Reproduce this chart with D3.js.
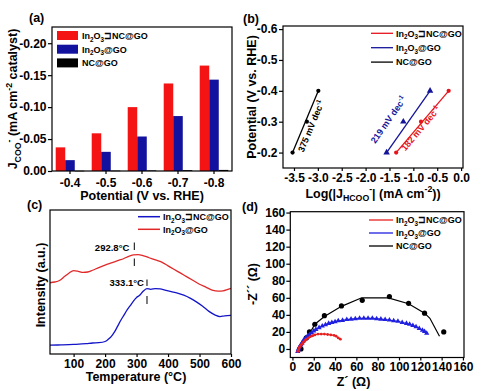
<!DOCTYPE html>
<html><head><meta charset="utf-8">
<script src="https://cdn.jsdelivr.net/npm/d3@7"></script>
<style>
body{margin:0;background:#fff;}
svg{display:block;font-family:"Liberation Sans",Arial,sans-serif;font-weight:bold;}
</style></head>
<body><svg id="c" width="482" height="391"></svg>
<script>
// ---------- DATA ----------
// (a) partial current density of formate (mA cm^-2 catalyst)
const aCats = ["-0.4","-0.5","-0.6","-0.7","-0.8"];
const aHybrid = [-0.037,-0.059,-0.100,-0.137,-0.165];
const aIn2O3 = [-0.017,-0.030,-0.054,-0.086,-0.143];
const aNC = [-0.0004,-0.0006,-0.0009,-0.0013,-0.0017];
const aTicks = [0,-0.05,-0.10,-0.15,-0.20];
// (b) Tafel plots
const bPot = [-0.2,-0.3,-0.4];
const bHybridX = [-1.36,-0.84,-0.26];
const bIn2O3X = [-1.56,-1.21,-0.65];
const bNCX = [-3.53,-3.23,-2.99];
const bXTicks = [-3.5,-3.0,-2.5,-2.0,-1.5,-1.0,-0.5,0.0];
const bYTicks = [-0.6,-0.5,-0.4,-0.3,-0.2];
const bSlopes = ["375","219","182"];
// (c) CO2-TPD
const cBlueT = [25,60,100,140,160,180,200,210,220,230,240,250,260,270,280,290,300,310,320,333,345,360,375,390,410,430,450,470,490,510,530,550,565,580,600];
const cBlueI = [8,8.2,8.5,9,9.5,9.7,10.5,12,14,17,21,25,28.5,32,35,38,40.5,42,44.5,46.5,46,46.5,46.3,45.5,44.5,43.5,42,40,37.5,34.5,31,28.5,27.5,28,28.3];
const cRedT = [25,40,55,70,85,100,115,130,145,160,180,200,220,240,260,275,290,305,320,340,360,380,400,420,440,460,480,500,520,540,560,575,590,600];
const cRedI = [50.5,51,52,54.5,57,58.8,58.3,57.5,57.8,59,60.8,62.5,64,65.5,67,68.5,69.4,69.6,69,67.5,66,64.5,62,59.5,57,54.5,52,49.5,47.5,45.5,44.8,45,46,46.7];
const cXTicks = [100,200,300,400,500,600];
const cPeaks = [292.8,333.1];
// (d) Nyquist plots
const dHybridX = [5,5.5,6,6.5,7,8,9,10,11,12,13,15,17,19,21,24,27,30,33,36,39,41,43,45];
const dHybridY = [-3,-1.5,0,1.5,3,4.5,6,7.5,9,10,11.5,13,14.5,15.5,16.5,17.5,17.5,17.5,17,16.5,16,15,13,11.5];
const dIn2O3X = [5,5.5,6,7,8,9,10,11,12.5,14,16,18,20,22,25,28,31,34,37,40,43,47,51,55,59,63,67,71,75,79,83,87,91,95,99,103,107,110,113,116,119,122,124,126];
const dIn2O3Y = [-3,-1,1,3,5,7,9,11,13,15,17,19,21,23,25,27,28.5,30,31,32,33,33.5,34.5,35,35.5,36,36,36,36,35.5,35,34.5,34,33,32.5,31,30,29,27.5,26,24,22,20.5,18.5];
const dNCX = [8,13,16,21,30,46,65.5,91,109,124,142];
const dNCY = [0,13,20,29,39,50.5,57,61.5,53.5,42,20];
const dNCFitX = [6,13,17,21,30,46,65,90,109,124,129,138];
const dNCFitY = [-2,12,20,29,38,50,60,60,53,42,36,15];
const dTicks = [0,20,40,60,80,100,120,140,160];

const legendNames = [
  [{t:"In"},{t:"2",s:"sub"},{t:"O"},{t:"3",s:"sub"},{t:"\u2290NC@GO"}],
  [{t:"In"},{t:"2",s:"sub"},{t:"O"},{t:"3",s:"sub"},{t:"@GO"}],
  [{t:"NC@GO"}]
];

// ---------- HELPERS ----------
const svg = d3.select("#c");
const fmt = (p)=> (v)=> (v<0?"-":"") + Math.abs(v).toFixed(p);
const f2 = fmt(2), f1 = fmt(1);

function rich(sel, parts, size){
  let off = 0;
  parts.forEach(p=>{
    const fs = p.s ? size*0.7 : size;
    const target = p.s==="sub" ? size*0.3 : (p.s==="sup" ? -size*0.42 : 0);
    sel.append("tspan").attr("dy", target-off).attr("font-size", fs).text(p.t);
    off = target;
  });
  return sel;
}
function frame(g, x0,y0,x1,y1){
  g.append("rect").attr("x",x0).attr("y",y0).attr("width",x1-x0).attr("height",y1-y0)
   .attr("fill","none").attr("stroke","#000").attr("stroke-width",1.2);
}
function styleAxis(g, fs){
  g.selectAll("path.domain").remove();
  g.selectAll("line").attr("stroke","#000").attr("stroke-width",1.2);
  g.selectAll("text").attr("font-size",fs).attr("font-family","'Liberation Sans',Arial,sans-serif").attr("font-weight","bold").attr("fill","#000");
}
const TFS = 12, LFS = 12.5, GFS = 9;

// ---------- PANEL (a) ----------
{
  const L=52,T=27,R=232,B=171;
  const g = svg.append("g");
  const x = d3.scaleBand().domain(aCats).range([L,R]).padding(0);
  const series = [aHybrid,aIn2O3,aNC];
  const colors = ["#f41414","#12129e","#000000"];
  const xi = d3.scaleBand().domain([0,1,2]).range([0,x.bandwidth()]).paddingInner(0).paddingOuter(0.39);
  const y = d3.scaleLinear().domain([0,-0.2254]).range([B,T]);
  series.forEach((s,si)=>{
    g.selectAll(null).data(s).enter().append("rect")
     .attr("x",(d,i)=>x(aCats[i])+xi(si)).attr("width",xi.bandwidth())
     .attr("y",d=>y(d)).attr("height",d=>Math.max(0.6,y(0)-y(d))).attr("fill",colors[si]);
  });
  frame(g,L,T,R,B);
  styleAxis(g.append("g").attr("transform",`translate(${L},0)`).call(d3.axisLeft(y).tickValues(aTicks).tickFormat(f2).tickSize(4).tickPadding(1.5)),TFS);
  styleAxis(g.append("g").attr("transform",`translate(0,${B})`).call(d3.axisBottom(x).tickSize(3).tickPadding(4)),TFS);
  // legend
  legendNames.forEach((n,i)=>{
    const yy = 35.5 + i*13.7;
    g.append("rect").attr("x",57).attr("y",yy-4.5).attr("width",21).attr("height",9).attr("fill",colors[i]);
    rich(g.append("text").attr("x",82).attr("y",yy+3.3).attr("font-size",GFS), n, GFS);
  });
  rich(g.append("text").attr("transform",`translate(17,${(T+B)/2}) rotate(-90)`).attr("text-anchor","middle").attr("font-size",LFS),
    [{t:"J"},{t:"COO",s:"sub"},{t:"-",s:"sup"},{t:" (mA cm"},{t:"-2",s:"sup"},{t:" catalyst)"}], LFS);
  g.append("text").attr("x",(L+R)/2).attr("y",199.5).attr("text-anchor","middle").attr("font-size",LFS).text("Potential (V vs. RHE)");
  g.append("text").attr("x",29).attr("y",22).attr("font-size",LFS).text("(a)");
}

// ---------- PANEL (b) ----------
{
  const L=283,T=26,R=463,B=168;
  const g = svg.append("g");
  const x = d3.scaleLinear().domain([-3.73,0.04]).range([L,R]);
  const y = d3.scaleLinear().domain([-0.15,-0.61]).range([B,T]);
  frame(g,L,T,R,B);
  styleAxis(g.append("g").attr("transform",`translate(${L},0)`).call(d3.axisLeft(y).tickValues(bYTicks).tickFormat(f1).tickSize(4).tickPadding(1.5)),TFS);
  styleAxis(g.append("g").attr("transform",`translate(0,${B})`).call(d3.axisBottom(x).tickValues(bXTicks).tickFormat(f1).tickSize(3).tickPadding(2)),TFS);
  const sets = [[bHybridX,"#e8141c","circle"],[bIn2O3X,"#14149a","triangle"],[bNCX,"#000","circle"]];
  sets.forEach(([xs,c,m])=>{
    g.append("line").attr("x1",x(xs[0])).attr("y1",y(bPot[0])).attr("x2",x(xs[2])).attr("y2",y(bPot[2]))
     .attr("stroke",c).attr("stroke-width",1.3);
    const sym = d3.symbol().type(m==="circle"?d3.symbolCircle:d3.symbolTriangle).size(m==="circle"?14:18);
    g.selectAll(null).data(xs).enter().append("path")
     .attr("transform",(d,i)=>`translate(${x(d)},${y(bPot[i])})`).attr("d",sym).attr("fill",c);
  });
  // slope labels
  const labs = [[bNCX,"#000",314,127.3,bSlopes[0]],[bIn2O3X,"#14149a",391,121.5,bSlopes[1]],[bHybridX,"#e8141c",423,130.5,bSlopes[2]]];
  labs.forEach(([xs,c,px,py,s])=>{
    const ang = Math.atan2(y(bPot[2])-y(bPot[0]), x(xs[2])-x(xs[0]))*180/Math.PI;
    rich(g.append("text").attr("transform",`translate(${px},${py}) rotate(${ang})`).attr("text-anchor","middle")
      .attr("dy","0.35em").attr("fill",c).attr("font-size",GFS), [{t:s+" mV dec"},{t:"-1",s:"sup"}], GFS);
  });
  legendNames.forEach((n,i)=>{
    const yy = 33.3 + i*14.4;
    g.append("line").attr("x1",371).attr("x2",393).attr("y1",yy).attr("y2",yy).attr("stroke",sets[i][1]).attr("stroke-width",1.3);
    rich(g.append("text").attr("x",396).attr("y",yy+3.3).attr("font-size",GFS), n, GFS);
  });
  rich(g.append("text").attr("transform",`translate(256,${(T+B)/2}) rotate(-90)`).attr("text-anchor","middle").attr("font-size",LFS),
    [{t:"Potential (V vs. RHE)"}], LFS);
  rich(g.append("text").attr("x",(L+R)/2).attr("y",197.5).attr("text-anchor","middle").attr("font-size",LFS),
    [{t:"Log(|J"},{t:"HCOO",s:"sub"},{t:"-",s:"sup"},{t:"| (mA cm"},{t:"-2",s:"sup"},{t:"))"}], LFS);
  g.append("text").attr("x",243).attr("y",23).attr("font-size",LFS).text("(b)");
}

// ---------- PANEL (c) ----------
{
  const L=50,T=210,R=231,B=354;
  const g = svg.append("g");
  const x = d3.scaleLinear().domain([25,600]).range([L,R]);
  const y = d3.scaleLinear().domain([2,100]).range([B,T]);
  const line = d3.line().x(d=>x(d[0])).y(d=>y(d[1])).curve(d3.curveMonotoneX);
  g.append("path").attr("d",line(cRedT.map((t,i)=>[t,cRedI[i]]))).attr("fill","none").attr("stroke","#e02828").attr("stroke-width",1.3);
  g.append("path").attr("d",line(cBlueT.map((t,i)=>[t,cBlueI[i]]))).attr("fill","none").attr("stroke","#1414c8").attr("stroke-width",1.3);
  frame(g,L,T,R,B);
  styleAxis(g.append("g").attr("transform",`translate(0,${B})`).call(d3.axisBottom(x).tickValues(cXTicks).tickSize(3).tickPadding(2)),TFS);
  // peak markers
  const peakY = [[242.5,250],[258.5,266],[279.5,286],[296,304]];
  [[cPeaks[0],peakY[0],peakY[1]],[cPeaks[1],peakY[2],peakY[3]]].forEach(([p,a,b])=>{
    [a,b].forEach(seg=>g.append("line").attr("x1",x(p)).attr("x2",x(p)).attr("y1",seg[0]).attr("y2",seg[1]).attr("stroke","#000").attr("stroke-width",1));
  });
  g.append("text").attr("x",x(cPeaks[0])-5).attr("y",251).attr("text-anchor","end").attr("font-size",9.5).text(cPeaks[0].toFixed(1)+"°C");
  g.append("text").attr("x",x(cPeaks[1])-3).attr("y",286).attr("text-anchor","end").attr("font-size",9.5).text(cPeaks[1].toFixed(1)+"°C");
  const cl = [["#1414c8",legendNames[0]],["#e02828",legendNames[1]]];
  cl.forEach(([c,n],i)=>{
    const yy = 216.7 + i*12.6;
    g.append("line").attr("x1",138).attr("x2",160).attr("y1",yy).attr("y2",yy).attr("stroke",c).attr("stroke-width",1.5);
    rich(g.append("text").attr("x",163).attr("y",yy+3.3).attr("font-size",GFS), n, GFS);
  });
  g.append("text").attr("transform",`translate(44.5,285) rotate(-90)`).attr("text-anchor","middle").attr("font-size",LFS).text("Intensity (a.u.)");
  g.append("text").attr("x",136).attr("y",381).attr("text-anchor","middle").attr("font-size",LFS).text("Temperature (°C)");
  g.append("text").attr("x",27).attr("y",209).attr("font-size",LFS).text("(c)");
}

// ---------- PANEL (d) ----------
{
  const L=290.3,T=211.7,R=464,B=357.5;
  const g = svg.append("g");
  const x = d3.scaleLinear().domain([-2,161]).range([L,R]);
  const y = d3.scaleLinear().domain([-10,161]).range([B,T]);
  const line = d3.line().x(d=>x(d[0])).y(d=>y(d[1]));
  // NC@GO
  g.append("path").attr("d",line(dNCFitX.map((v,i)=>[v,dNCFitY[i]]))).attr("fill","none").attr("stroke","#000").attr("stroke-width",1.2);
  g.selectAll(null).data(dNCX).enter().append("circle").attr("cx",d=>x(d)).attr("cy",(d,i)=>y(dNCY[i])).attr("r",2.6).attr("fill","#000");
  // In2O3@GO
  g.append("path").attr("d",line(dIn2O3X.map((v,i)=>[v,dIn2O3Y[i]]))).attr("fill","none").attr("stroke","#2020e0").attr("stroke-width",1.2);
  const tri = d3.symbol().type(d3.symbolTriangle).size(12);
  g.selectAll(null).data(dIn2O3X).enter().append("path").attr("transform",(d,i)=>`translate(${x(d)},${y(dIn2O3Y[i])})`).attr("d",tri).attr("fill","#2020e0");
  // hybrid
  g.append("path").attr("d",line(dHybridX.map((v,i)=>[v,dHybridY[i]]))).attr("fill","none").attr("stroke","#e82020").attr("stroke-width",1.2);
  g.selectAll(null).data(dHybridX).enter().append("circle").attr("cx",d=>x(d)).attr("cy",(d,i)=>y(dHybridY[i])).attr("r",1.4).attr("fill","#e82020");
  frame(g,L,T,R,B);
  styleAxis(g.append("g").attr("transform",`translate(${L},0)`).call(d3.axisLeft(y).tickValues(dTicks).tickSize(4).tickPadding(1)),TFS);
  styleAxis(g.append("g").attr("transform",`translate(0,${B})`).call(d3.axisBottom(x).tickValues(dTicks).tickSize(3).tickPadding(2)),TFS);
  const dl = ["#e82020","#2020e0","#000"];
  legendNames.forEach((n,i)=>{
    const yy = 220 + i*13;
    g.append("line").attr("x1",369).attr("x2",393).attr("y1",yy).attr("y2",yy).attr("stroke",dl[i]).attr("stroke-width",1.3);
    rich(g.append("text").attr("x",396).attr("y",yy+3.3).attr("font-size",GFS), n, GFS);
  });
  g.append("text").attr("transform",`translate(257,284) rotate(-90)`).attr("text-anchor","middle").attr("font-size",LFS).text("-Z\u00b4\u00b4 (\u03a9)");
  g.append("text").attr("x",353.5).attr("y",386).attr("text-anchor","middle").attr("font-size",LFS).text("Z\u00b4 (\u03a9)");
  g.append("text").attr("x",242).attr("y",211).attr("font-size",LFS).text("(d)");
}
</script></body></html>
